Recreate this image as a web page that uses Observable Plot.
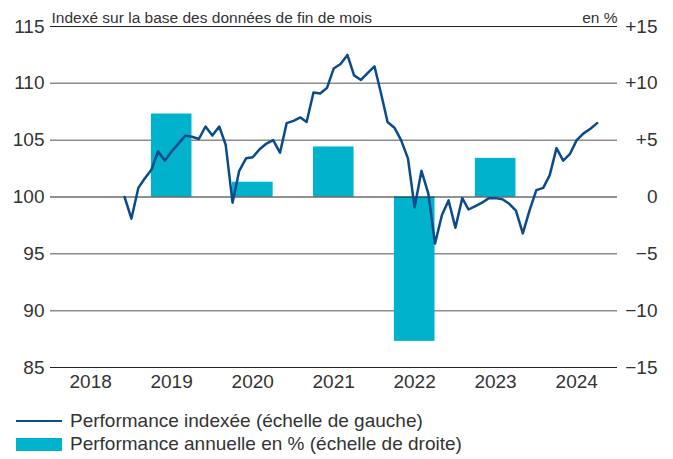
<!DOCTYPE html>
<html>
<head>
<meta charset="utf-8">
<script src="https://cdn.jsdelivr.net/npm/d3@7"></script>
<script src="https://cdn.jsdelivr.net/npm/@observablehq/plot@0.6"></script>
<style>
  html, body { margin: 0; padding: 0; background: #fff; }
  #wrap { position: relative; width: 673px; height: 459px; font-family: "Liberation Sans", Arial, sans-serif; color: #333; }
  #chart svg { display: block; }
  .leg { position: absolute; left: 16px; display: flex; align-items: center; font-size: 19px; line-height: 22px; color: #333; white-space: nowrap; }
  .leg .sw { width: 46px; margin-right: 8px; }
</style>
</head>
<body>
<div id="wrap">
  <div id="chart"></div>
  <div class="leg" style="top:410px;"><div class="sw" style="height:2.5px;background:#0b4a8b;"></div>Performance indexée (échelle de gauche)</div>
  <div class="leg" style="top:433px;"><div class="sw" style="height:13px;background:#00b2cc;"></div>Performance annuelle en % (échelle de droite)</div>
</div>
<script>
// Indexed performance, monthly, first point = December 2018 (left scale)
const indexStart = "2018-12-01";
const indexValues = [
  100.0, 98.1, 100.8, 101.6, 102.4, 104.0, 103.2, 104.0, 104.7, 105.4, 105.3, 105.1,
  106.2, 105.4, 106.2, 104.6, 99.5, 102.3, 103.4, 103.5, 104.2, 104.7, 105.0, 103.9,
  106.5, 106.7, 107.0, 106.6, 109.2, 109.1, 109.6, 111.3, 111.7, 112.5, 110.7, 110.3,
  110.9, 111.5, 109.0, 106.6, 106.1, 105.0, 103.4, 99.1, 102.3, 100.3, 95.9, 98.4,
  99.7, 97.3, 99.9, 98.9, 99.2, 99.5, 99.9, 99.9, 99.8, 99.4, 98.8, 96.8,
  98.8, 100.6, 100.8, 101.9, 104.3, 103.2, 103.8, 105.0, 105.6, 106.0, 106.5
];
// Annual performance in % (right scale)
const years = [2019, 2020, 2021, 2022, 2023];
const annualPerf = [7.3, 1.3, 4.4, -12.7, 3.4];
// Axis ticks
const axisYears = [2018, 2019, 2020, 2021, 2022, 2023, 2024];
const leftTicks = [85, 90, 95, 100, 105, 110, 115];
const greyGrid = [90, 95, 105, 110];
const blackGrid = [85, 100, 115];
const headerLeft = "Indexé sur la base des données de fin de mois";
const headerRight = "en %";

const start = new Date(indexStart + "T00:00:00Z");
const lineData = indexValues.map((v, i) => ({date: d3.utcMonth.offset(start, i), value: v}));
const barData = years.map((y, i) => ({
  x1: new Date(Date.UTC(y, 3, 1)),
  x2: new Date(Date.UTC(y, 9, 1)),
  perf: annualPerf[i]
}));
const yearMid = axisYears.map(y => new Date(Date.UTC(y, 6, 1)));
const fmtRight = d => { const v = Math.round(d - 100); return v > 0 ? "+" + v : v < 0 ? "\u2212" + Math.abs(v) : "0"; };

const chart = Plot.plot({
  width: 673,
  height: 400,
  marginLeft: 50,
  marginRight: 56,
  marginTop: 26,
  marginBottom: 33,
  style: {fontFamily: "'Liberation Sans', Arial, sans-serif", fontSize: "19px", color: "#333", background: "#fff"},
  x: {type: "utc", domain: [new Date(Date.UTC(2018, 0, 1)), new Date(Date.UTC(2025, 0, 1))]},
  y: {domain: [85, 115]},
  marks: [
    Plot.ruleY(greyGrid, {stroke: "#8c8c8c", strokeWidth: 1.5}),
    Plot.rectY(barData, {x1: "x1", x2: "x2", y1: () => 100, y2: d => 100 + d.perf, fill: "#00b2cc"}),
    Plot.ruleY(blackGrid, {stroke: "#222", strokeWidth: 1}),
    Plot.line(lineData, {x: "date", y: "value", stroke: "#0b4a8b", strokeWidth: 2.5, strokeLinejoin: "round"}),
    Plot.axisY({ticks: leftTicks, tickSize: 0, tickPadding: 6, label: null, fontSize: 19}),
    Plot.axisY({anchor: "right", ticks: leftTicks, tickSize: 0, tickPadding: 40, textAnchor: "end", tickFormat: fmtRight, label: null, fontSize: 19}),
    Plot.axisX({ticks: yearMid, tickFormat: d => String(d.getUTCFullYear()), tickSize: 0, tickPadding: 7, label: null, fontSize: 19}),
    Plot.text([headerLeft], {frameAnchor: "top-left", lineAnchor: "bottom", dy: -4, dx: 1, fontSize: 15.5, fill: "#333", textAnchor: "start"}),
    Plot.text([headerRight], {frameAnchor: "top-right", lineAnchor: "bottom", dy: -4, fontSize: 15.5, fill: "#333", textAnchor: "end"})
  ]
});
document.getElementById("chart").appendChild(chart);
</script>
</body>
</html>
